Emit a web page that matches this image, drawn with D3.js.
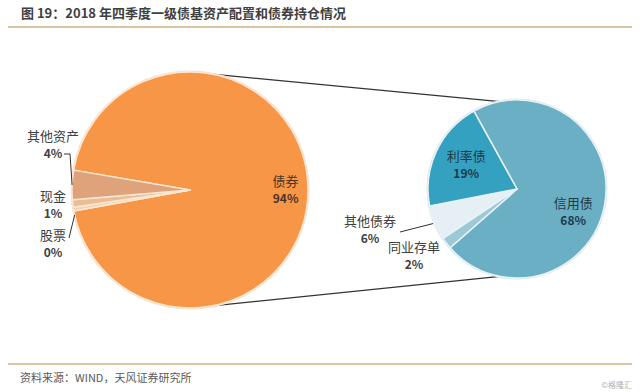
<!DOCTYPE html>
<html>
<head>
<meta charset="utf-8">
<script src="https://cdn.jsdelivr.net/npm/d3@7"></script>
<style>
  body { margin: 0; background: #fff; }
  text { font-family: "Noto Sans CJK SC", "Noto Sans", sans-serif; }
</style>
</head>
<body>
<div id="chart"></div>
<script>
// asset allocation (left pie), clockwise from the bond slice
const assetNames = ["债券", "股票", "现金", "其他资产"];
const assetValues = [94, 0.5, 1, 4];
const assetLabels = ["94%", "0%", "1%", "4%"];

// bond holdings (right pie), clockwise from 信用债
const bondNames = ["信用债", "同业存单", "其他债券", "利率债"];
const bondValues = [68, 2, 6, 19];
const bondLabels = ["68%", "2%", "6%", "19%"];

const title = "图 19：2018 年四季度一级债基资产配置和债券持仓情况";
const source = "资料来源：WIND，天风证券研究所";

const W = 640, H = 392;
const svg = d3.select("#chart").append("svg")
    .attr("width", W)
    .attr("height", H);

// header / footer
svg.append("text")
    .attr("x", 21).attr("y", 18)
    .attr("font-size", 13).attr("font-weight", "bold")
    .attr("fill", "#404040")
    .text(title);
svg.append("line")
    .attr("x1", 8).attr("x2", 632).attr("y1", 27).attr("y2", 27)
    .attr("stroke", "#d8c6a2").attr("stroke-width", 2);
svg.append("line")
    .attr("x1", 8).attr("x2", 632).attr("y1", 364).attr("y2", 364)
    .attr("stroke", "#d8c6a2").attr("stroke-width", 2);
svg.append("text")
    .attr("x", 20).attr("y", 382)
    .attr("font-size", 11).attr("fill", "#595959")
    .text(source);
svg.append("text")
    .attr("x", 632).attr("y", 388).attr("text-anchor", "end")
    .attr("font-size", 8).attr("fill", "#b0b0b0")
    .text("©格隆汇");

const deg = Math.PI / 180;

// left pie
const L = { cx: 190, cy: 190, r: 118 };
const leftPie = d3.pie().sort(null)
    .startAngle(-80.3 * deg).endAngle(279.7 * deg)
    .value(d => d);
const leftArcs = leftPie(assetValues);
const leftArc = d3.arc().innerRadius(0).outerRadius(L.r);
const leftColors = ["#f79646", "#f2d3b8", "#ebbd96", "#dfa37b"];

// right pie
const R = { cx: 517, cy: 189, r: 89 };
const rightPie = d3.pie().sort(null)
    .startAngle(-29 * deg).endAngle(331 * deg)
    .value(d => d);
const rightArcs = rightPie(bondValues);
const rightArc = d3.arc().innerRadius(0).outerRadius(R.r);
const rightColors = ["#6aafc3", "#9dc9d6", "#e6eff3", "#35a1c0"];

// connector lines between the pies
const conn = [[11, -11], [169, 191]];
conn.forEach(c => {
    const p1 = d3.pointRadial(c[0] * deg, L.r);
    const p2 = d3.pointRadial(c[1] * deg, R.r);
    svg.append("line")
        .attr("x1", L.cx + p1[0]).attr("y1", L.cy + p1[1])
        .attr("x2", R.cx + p2[0]).attr("y2", R.cy + p2[1])
        .attr("stroke", "#333").attr("stroke-width", 1.2);
});

const gl = svg.append("g").attr("transform", `translate(${L.cx},${L.cy})`);
gl.append("circle").attr("r", L.r + 1.5).attr("fill", "#f6e2cf");
gl.selectAll("path.slice")
    .data(leftArcs)
    .enter().append("path")
    .attr("class", "slice")
    .attr("d", leftArc)
    .attr("fill", (d, i) => leftColors[i])
    .attr("stroke", "#fbe6d2")
    .attr("stroke-width", 1.5)
    .attr("stroke-linejoin", "round");

const gr = svg.append("g").attr("transform", `translate(${R.cx},${R.cy})`);
gr.append("circle").attr("r", R.r + 1.5).attr("fill", "#d9e8ee");
gr.selectAll("path.slice")
    .data(rightArcs)
    .enter().append("path")
    .attr("class", "slice")
    .attr("d", rightArc)
    .attr("fill", (d, i) => rightColors[i])
    .attr("stroke", "#e8f2f6")
    .attr("stroke-width", 1.5)
    .attr("stroke-linejoin", "round");

const mid = d => (d.startAngle + d.endAngle) / 2;

function twoLine(g, x, y, name, pct, color) {
    g.append("text")
        .attr("x", x).attr("y", y - 4)
        .attr("text-anchor", "middle")
        .attr("font-size", 13).attr("fill", color)
        .text(name);
    g.append("text")
        .attr("x", x).attr("y", y + 13)
        .attr("text-anchor", "middle")
        .attr("font-size", 12).attr("font-weight", "bold").attr("fill", color)
        .text(pct);
}

// left labels: bond inside, small slices stacked in a column on the left
{
    const p = d3.pointRadial(mid(leftArcs[0]), L.r * 0.81);
    twoLine(gl, p[0], p[1], assetNames[0], assetLabels[0], "#4a3526");
}
const colX = -137;
const colY = { 3: -45, 2: 15, 1: 54 };
[3, 2, 1].forEach(i => {
    twoLine(gl, colX, colY[i], assetNames[i], assetLabels[i], "#404040");
});
// leader lines for 其他资产 and 股票
{
    const e = d3.pointRadial(mid(leftArcs[3]), L.r);
    gl.append("polyline")
        .attr("points", [[colX + 11, colY[3] + 9], [colX + 17, colY[3] + 9], e].join(" "))
        .attr("fill", "none").attr("stroke", "#333").attr("stroke-width", 1);
    const e2 = d3.pointRadial(leftArcs[1].startAngle - 2 * deg, L.r);
    gl.append("polyline")
        .attr("points", [[colX + 16, colY[1] - 6], [colX + 16, colY[1] - 6], e2].join(" "))
        .attr("fill", "none").attr("stroke", "#333").attr("stroke-width", 1);
}

// right labels
{
    let p = d3.pointRadial(mid(rightArcs[0]) + 12 * deg, R.r * 0.68);
    twoLine(gr, p[0], p[1], bondNames[0], bondLabels[0], "#1f3a4c");
    p = d3.pointRadial(mid(rightArcs[3]), R.r * 0.63);
    twoLine(gr, p[0], p[1], bondNames[3], bondLabels[3], "#1f3a4c");
    // 其他债券, outside with leader
    const e = d3.pointRadial(mid(rightArcs[2]), R.r * 1.02);
    twoLine(gr, -147, 41, bondNames[2], bondLabels[2], "#404040");
    gr.append("line")
        .attr("x1", -117).attr("y1", 43)
        .attr("x2", e[0]).attr("y2", e[1])
        .attr("stroke", "#333").attr("stroke-width", 1);
    // 同业存单
    twoLine(gr, -103, 67, bondNames[1], bondLabels[1], "#404040");
}
</script>
</body>
</html>
